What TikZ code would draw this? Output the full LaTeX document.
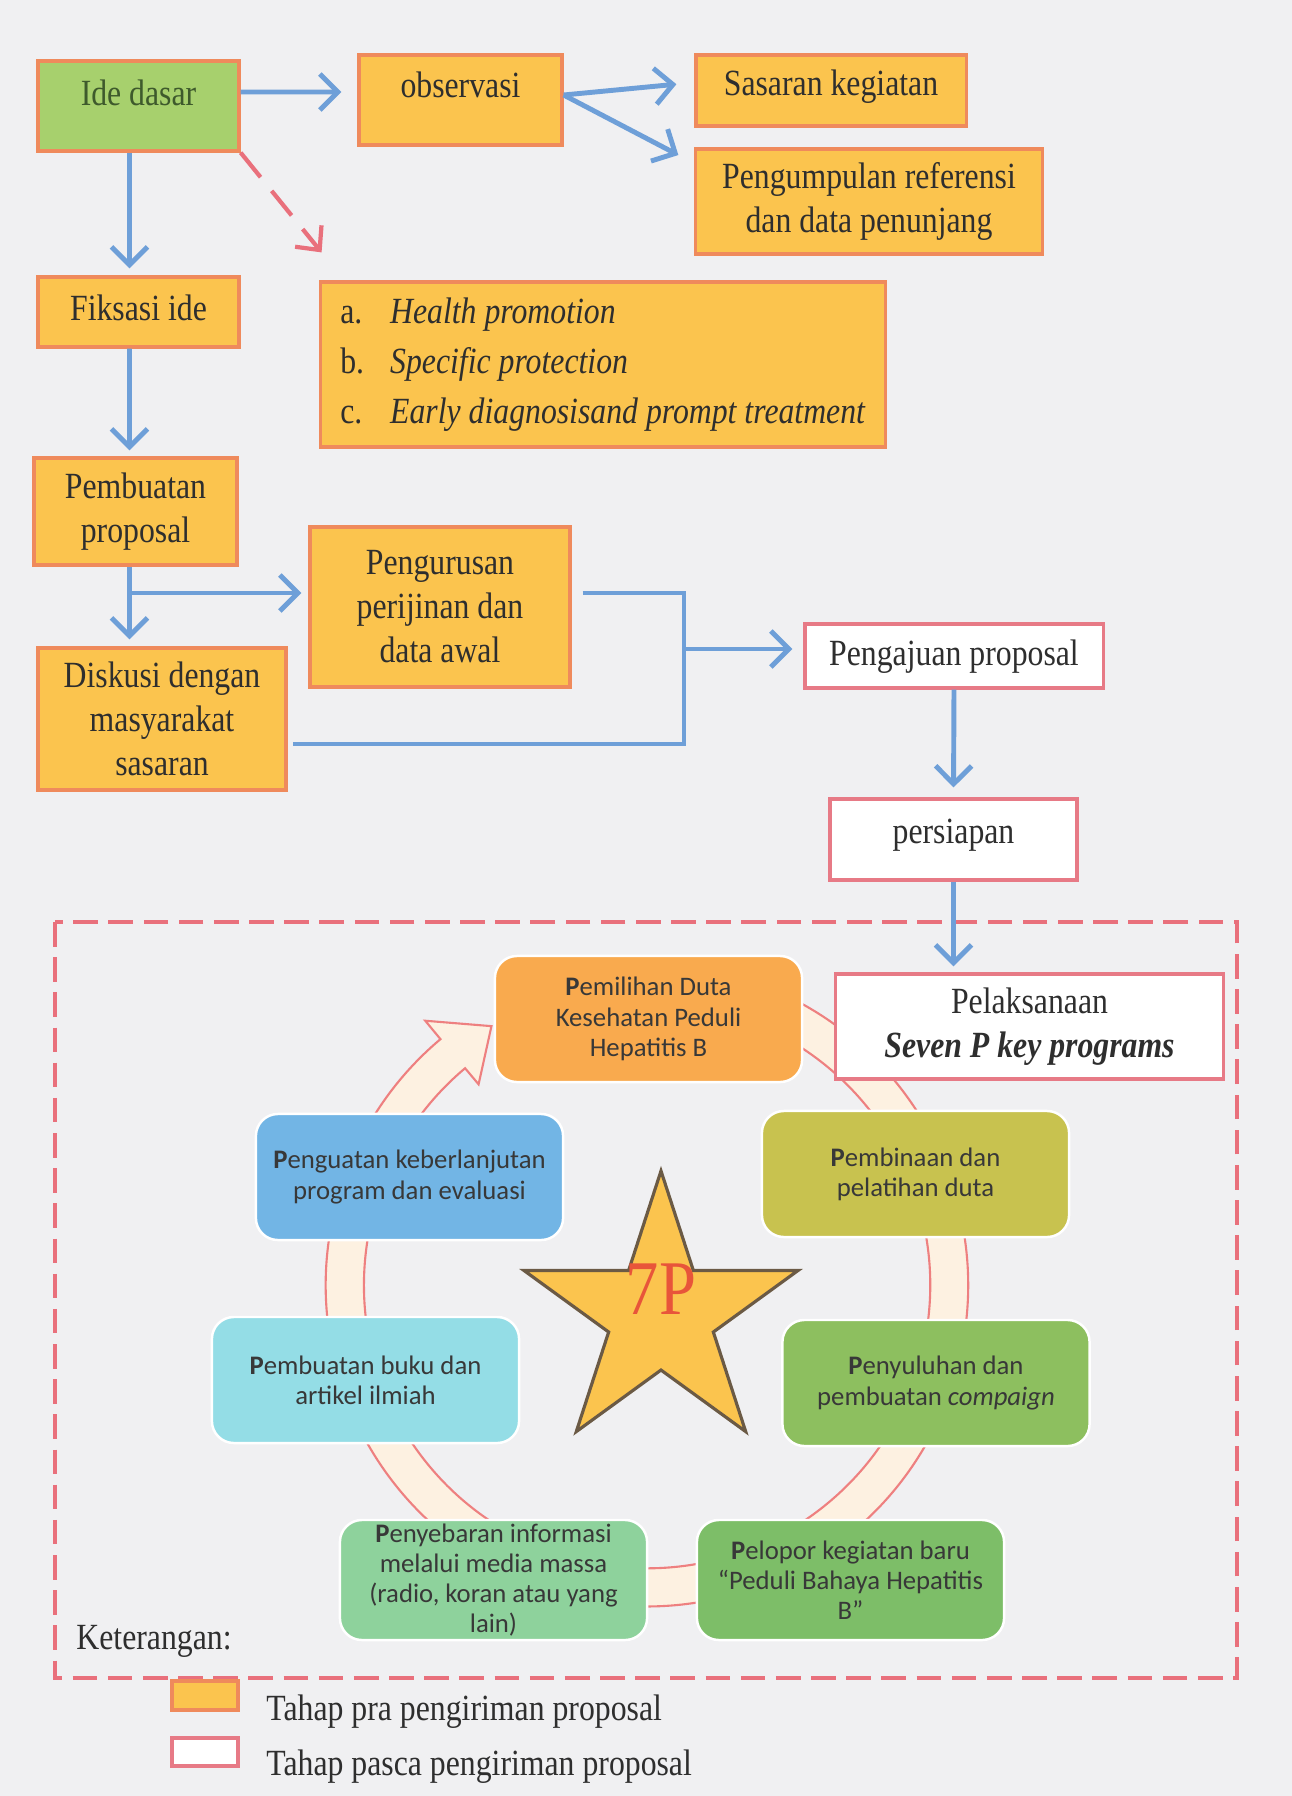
\documentclass[tikz,border=0pt]{standalone}
\usepackage{fontspec}
\setmainfont{Liberation Serif}[FakeStretch=0.86]
\newfontfamily\cyclefont{Carlito}
\usetikzlibrary{arrows.meta,shapes.geometric,calc}

\definecolor{bgpage}{HTML}{F0F0F2}
\definecolor{praFill}{HTML}{FBC44E}
\definecolor{praLine}{HTML}{EF8A5C}
\definecolor{ideFill}{HTML}{A7D06D}
\definecolor{ideText}{HTML}{3E5A2C}
\definecolor{pascaLine}{HTML}{E77A86}
\definecolor{flowBlue}{HTML}{6E9FD8}
\definecolor{frameRed}{HTML}{E9707C}
\definecolor{ringFill}{HTML}{FDF1E1}
\definecolor{ringLine}{HTML}{EE8080}
\definecolor{starLine}{HTML}{6B5A45}
\definecolor{sevenRed}{HTML}{E8553A}
\definecolor{dutaFill}{HTML}{F9AA4E}
\definecolor{binaFill}{HTML}{C8C24F}
\definecolor{suluhFill}{HTML}{8DBF5F}
\definecolor{pelopFill}{HTML}{7DBE68}
\definecolor{sebarFill}{HTML}{8ED29C}
\definecolor{bukuFill}{HTML}{94DDE6}
\definecolor{kuatFill}{HTML}{72B5E5}

\tikzset{
  pra/.style={draw=praLine, fill=praFill, line width=0.9pt, inner sep=0pt,
    align=center, text=black!82, font=\fontsize{10.5}{12.5}\selectfont},
  pasca/.style={pra, draw=pascaLine, fill=white},
  flow/.style={flowBlue, line width=1.4pt, -{Straight Barb[length=1.8mm,width=3.6mm]}},
  link/.style={flowBlue, line width=1.4pt},
  hint/.style={frameRed, line width=1.2pt, dash pattern=on 9pt off 5pt,
    -{Straight Barb[length=1.8mm,width=3.4mm]}},
  cyc/.style={rounded corners=2.2mm, minimum width=3.07cm, minimum height=1.26cm,
    inner sep=0pt, align=center, draw=white, line width=0.7pt, text=black!78,
    font=\cyclefont\fontsize{7.6}{8.6}\selectfont},
}

\begin{document}
\begin{tikzpicture}[x=0.01cm,y=0.01cm]
  \fill[bgpage] (0,0) rectangle (1292,-1796);
  \useasboundingbox (0,0) rectangle (1292,-1796);

  % tahap pra pengiriman
  \node[pra, fill=ideFill, text=ideText, minimum width=2.01cm, text height=0.44cm, text depth=0.46cm] (ide) at (138.5,-106) {Ide dasar};
  \node[pra, minimum width=2.03cm, text height=0.42cm, text depth=0.48cm] (obs) at (460.5,-100) {observasi};
  \node[pra, minimum width=2.70cm, text height=0.40cm, text depth=0.31cm] (sasaran) at (831,-90.5) {Sasaran kegiatan};
  \node[pra, minimum width=3.46cm, minimum height=1.05cm] (referensi) at (869,-201.5) {Pengumpulan referensi\\dan data penunjang};
  \node[pra, minimum width=2.01cm, text height=0.43cm, text depth=0.27cm] (fiksasi) at (138.5,-312) {Fiksasi ide};
  \node[pra, minimum width=5.64cm, minimum height=1.65cm] (tingkat) at (603,-364.5)
    {\begin{tabular}{@{}l@{\hspace{2.6mm}}l@{}}
      a. & \textit{Health promotion}\\[1.7pt]
      b. & \textit{Specific protection}\\[1.7pt]
      c. & \textit{Early diagnosisand prompt treatment}
    \end{tabular}};
  \node[pra, minimum width=2.03cm, minimum height=1.07cm] (proposal) at (135.5,-511.5) {Pembuatan\\proposal};
  \node[pra, minimum width=2.60cm, minimum height=1.60cm] (perijinan) at (440,-607) {Pengurusan\\perijinan dan\\data awal};
  \node[pra, minimum width=2.48cm, minimum height=1.42cm] (diskusi) at (162,-719) {Diskusi dengan\\masyarakat\\sasaran};

  % tahap pasca pengiriman
  \node[pasca, minimum width=2.98cm, text height=0.41cm, text depth=0.23cm] (pengajuan) at (954,-656) {Pengajuan proposal};
  \node[pasca, minimum width=2.47cm, text height=0.44cm, text depth=0.37cm] (persiapan) at (953.5,-839.5) {persiapan};

  \draw[frameRed, line width=1pt, dash pattern=on 7pt off 3pt] (55,-922) rectangle (1237,-1678);

  % lingkaran 7P
  \coordinate (pusat) at (647,-1285);
  \draw[ringLine, fill=ringFill, line width=0.6pt]
    ($(pusat)+(70:321)$) arc[start angle=70, end angle=-230, radius=3.21cm]
    -- ($(pusat)+(130:345)$) -- ($(pusat)+(121:302)$) -- ($(pusat)+(130:262)$)
    -- ($(pusat)+(130:283)$) arc[start angle=-230, end angle=70, radius=2.83cm] -- cycle;

  \node[star, star points=5, star point ratio=2.618, minimum size=2.88cm, inner sep=0pt,
    fill=praFill, draw=starLine, line width=0.9pt] (bintang) at (661,-1315) {};
  \node[text=sevenRed, font=\fontsize{22}{22}\selectfont] (tujuhP) at (661,-1289) {7P};

  \node[cyc, fill=dutaFill]  (pemilihan)  at (648.5,-1019) {\textbf{P}emilihan Duta\\Kesehatan Peduli\\Hepatitis B};
  \node[cyc, fill=binaFill]  (pembinaan)  at (915.5,-1174) {\textbf{P}embinaan dan\\pelatihan duta};
  \node[cyc, fill=suluhFill] (penyuluhan) at (936,-1383)   {\textbf{P}enyuluhan dan\\pembuatan \textit{compaign}};
  \node[cyc, fill=pelopFill, minimum height=1.20cm] (pelopor) at (850.5,-1580) {\textbf{P}elopor kegiatan baru\\“Peduli Bahaya Hepatitis\\B”};
  \node[cyc, fill=sebarFill, minimum height=1.20cm] (penyebaran) at (493.5,-1580) {\textbf{P}enyebaran informasi\\melalui media massa\\(radio, koran atau yang\\lain)};
  \node[cyc, fill=bukuFill]  (buku)       at (365.5,-1380) {\textbf{P}embuatan buku dan\\artikel ilmiah};
  \node[cyc, fill=kuatFill]  (penguatan)  at (409.5,-1177) {\textbf{P}enguatan keberlanjutan\\program dan evaluasi};

  \node[pasca, minimum width=3.87cm, minimum height=1.05cm] (pelaksanaan) at (1029.5,-1026.5) {Pelaksanaan\\\textbf{\textit{Seven P key programs}}};

  % alur
  \draw[flow, shorten >=1.6mm] ([yshift=1.4mm]ide.east) -- ([yshift=0.8mm]obs.west);
  \draw[flow, shorten >=1.8mm] ([yshift=0.5mm]obs.east) -- ([yshift=0.8mm]sasaran.west);
  \draw[flow, shorten >=1.8mm] ([yshift=0.5mm]obs.east) -- ([yshift=-1.6mm]referensi.north west);
  \draw[hint, shorten >=3.6mm] (ide.south east) -- ([xshift=2.5mm]tingkat.north west);
  \draw[flow, shorten >=0.7mm] ([xshift=-0.9mm]ide.south) -- ([xshift=-0.9mm]fiksasi.north);
  \draw[flow, shorten >=0.6mm] ([xshift=-0.9mm]fiksasi.south) -- ([xshift=-0.6mm]proposal.north);
  \draw[flow, shorten >=0.7mm] ([xshift=-0.6mm]proposal.south) -- ([xshift=-0.6mm]proposal.south |- diskusi.north);
  \coordinate (cabang) at (129.5,-593);
  \draw[flow, shorten >=0.7mm] (cabang) -- (cabang -| perijinan.west);
  \coordinate (gabung) at (684,-649);
  \draw[link] ([xshift=1.1mm,yshift=1.4mm]perijinan.east) -| (gabung) |- ([xshift=0.5mm,yshift=-2.5mm]diskusi.east);
  \draw[flow, shorten >=1.1mm] (gabung) -- (gabung -| pengajuan.west);
  \draw[flow, shorten >=1mm] (pengajuan.south) -- (persiapan.north);
  \draw[flow, shorten >=0.6mm] (persiapan.south) -- (persiapan.south |- pelaksanaan.north);

  % keterangan
  \node[anchor=west, text=black!82, font=\fontsize{10.5}{12.5}\selectfont] (ket) at (64,-1641) {Keterangan:};
  \node[pra, minimum width=0.66cm, minimum height=0.29cm] (kotakpra) at (205,-1695.5) {};
  \node[pasca, minimum width=0.66cm, minimum height=0.28cm] (kotakpasca) at (205,-1752) {};
  \node[anchor=west, text=black!82, font=\fontsize{10.5}{12.5}\selectfont] (tekspra) at (254,-1712) {Tahap pra pengiriman proposal};
  \node[anchor=west, text=black!82, font=\fontsize{10.5}{12.5}\selectfont] (tekspasca) at (254,-1767) {Tahap pasca pengiriman proposal};
\end{tikzpicture}
\end{document}
